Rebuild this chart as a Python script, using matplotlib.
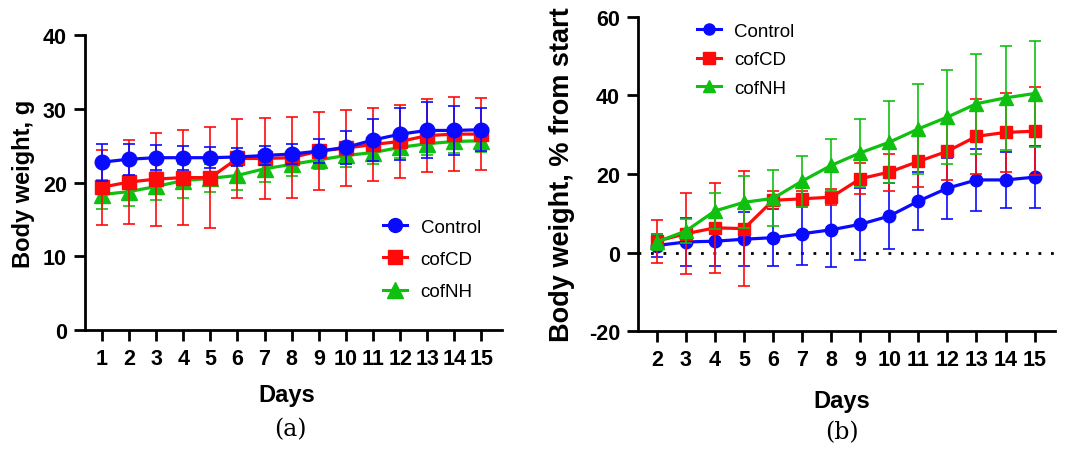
import matplotlib.pyplot as plt
from matplotlib.lines import Line2D
import numpy as np

plt.rcParams['font.family'] = ['Liberation Sans', 'DejaVu Sans']
plt.rcParams['axes.unicode_minus'] = False

# panel (a): absolute body weight, g
days_a = np.arange(1, 16)
ctrl_a = [22.8, 23.2, 23.4, 23.4, 23.4, 23.5, 23.7, 23.9, 24.3, 24.8, 25.8, 26.6, 27.1, 27.1, 27.2]
ctrl_a_sd = [2.5, 2.1, 1.7, 1.6, 1.4, 1.2, 1.3, 1.4, 1.6, 2.2, 2.8, 3.5, 3.8, 3.3, 2.9]
cd_a = [19.4, 20.1, 20.5, 20.7, 20.7, 23.3, 23.3, 23.4, 24.3, 24.7, 25.2, 25.6, 26.4, 26.6, 26.6]
cd_a_sd = [5.1, 5.7, 6.3, 6.4, 6.9, 5.4, 5.5, 5.5, 5.3, 5.2, 4.9, 4.9, 5.0, 5.0, 4.9]
nh_a = [18.4, 18.8, 19.5, 20.3, 20.6, 21.0, 21.9, 22.5, 23.1, 23.7, 24.1, 24.8, 25.3, 25.6, 25.7]
nh_a_sd = [2.0, 1.9, 1.9, 2.3, 1.9, 2.0, 1.8, 1.6, 1.2, 1.5, 1.5, 1.5, 1.5, 1.5, 1.5]

# panel (b): % change from start
days_b = np.arange(2, 16)
ctrl_b = [1.8, 2.7, 2.9, 3.4, 3.8, 4.8, 5.8, 7.2, 9.3, 13.1, 16.4, 18.5, 18.5, 19.2]
ctrl_b_sd = [3.0, 6.1, 6.3, 6.9, 7.3, 8.0, 9.5, 9.2, 8.3, 7.3, 7.8, 7.9, 7.2, 7.9]
cd_b = [2.9, 4.8, 6.3, 6.1, 13.3, 13.7, 14.1, 18.8, 20.5, 23.2, 25.8, 29.6, 30.6, 30.9]
cd_b_sd = [5.5, 10.3, 11.4, 14.7, 2.3, 2.1, 2.0, 4.0, 4.7, 6.4, 7.2, 9.5, 10.0, 11.2]
nh_b = [2.7, 5.5, 10.6, 12.8, 13.8, 18.2, 22.2, 25.4, 28.1, 31.5, 34.5, 37.9, 39.4, 40.5]
nh_b_sd = [2.0, 3.0, 4.6, 6.6, 7.1, 6.5, 6.6, 8.7, 10.4, 11.5, 11.9, 12.7, 13.3, 13.5]

groups = ['Control', 'cofCD', 'cofNH']
colors = ['#0a0aff', '#ff0a0a', '#10c010']
markers = ['o', 's', '^']


def style_axes(ax):
	for s in ['top', 'right']:
		ax.spines[s].set_visible(False)
	for s in ['left', 'bottom']:
		ax.spines[s].set_linewidth(2.0)
	ax.tick_params(width=2.0, length=8, labelsize=15.5, pad=5)
	for lab in ax.get_xticklabels() + ax.get_yticklabels():
		lab.set_fontweight('bold')


def legend_handles(ms):
	return [Line2D([], [], color=colors[i], marker=markers[i], lw=2.2,
	               ms=ms if i != 2 else ms + 1) for i in range(3)]


fig = plt.figure(figsize=(10.74, 4.6), dpi=100)

# ---- (a)
ax1 = fig.add_axes([0.079, 0.280, 0.388, 0.641])
series_a = [(ctrl_a, ctrl_a_sd), (cd_a, cd_a_sd), (nh_a, nh_a_sd)]
for i in [2, 1, 0]:
	m, sd = series_a[i]
	ax1.errorbar(days_a, m, yerr=sd, color=colors[i], marker=markers[i], ms=10.5 if i != 2 else 11,
	             lw=2.3, elinewidth=1.2, capsize=4.5, capthick=1.2, zorder=3 + (2 - i))
ax1.set_xlim(0.37, 15.74)
ax1.set_ylim(0, 40)
ax1.set_xticks(days_a)
ax1.set_yticks([0, 10, 20, 30, 40])
style_axes(ax1)
ax1.set_xlabel('Days', fontsize=17, fontweight='bold')
ax1.xaxis.set_label_coords(0.484, -0.18)
ax1.set_ylabel('Body weight, g', fontsize=17, fontweight='bold')
ax1.yaxis.set_label_coords(-0.12, 0.5)
ax1.legend(legend_handles(10), groups, loc='upper left', bbox_to_anchor=(0.675, 0.435), frameon=False,
           fontsize=13.5, handlelength=1.3, handletextpad=0.7, labelspacing=0.8)
fig.text(0.27, 0.065, '(a)', fontsize=17, family='DejaVu Serif', ha='center', va='center')

# ---- (b)
ax2 = fig.add_axes([0.594, 0.278, 0.388, 0.683])
series_b = [(ctrl_b, ctrl_b_sd), (cd_b, cd_b_sd), (nh_b, nh_b_sd)]
for i in [0, 1, 2]:
	m, sd = series_b[i]
	ax2.errorbar(days_b, m, yerr=sd, color=colors[i], marker=markers[i], ms=9 if i != 2 else 9.5,
	             lw=2.3, elinewidth=1.2, capsize=4.5, capthick=1.2, zorder=3 + i)
ax2.axhline(0, color='black', lw=2.0, ls=(0, (1, 3.5)), zorder=1)
ax2.set_xlim(1.35, 15.69)
ax2.set_ylim(-20, 60)
ax2.set_xticks(days_b)
ax2.set_yticks([-20, 0, 20, 40, 60])
style_axes(ax2)
ax2.set_xlabel('Days', fontsize=17, fontweight='bold')
ax2.xaxis.set_label_coords(0.489, -0.185)
ax2.set_ylabel('Body weight, % from start', fontsize=19.5, fontweight='bold')
ax2.yaxis.set_label_coords(-0.15, 0.5)
ax2.legend(legend_handles(8), groups, loc='upper left', bbox_to_anchor=(0.10, 1.035), frameon=False,
           fontsize=13.5, handlelength=1.3, handletextpad=0.7, labelspacing=0.6)
fig.text(0.784, 0.059, '(b)', fontsize=17, family='DejaVu Serif', ha='center', va='center')

plt.savefig('out.png', dpi=100)
